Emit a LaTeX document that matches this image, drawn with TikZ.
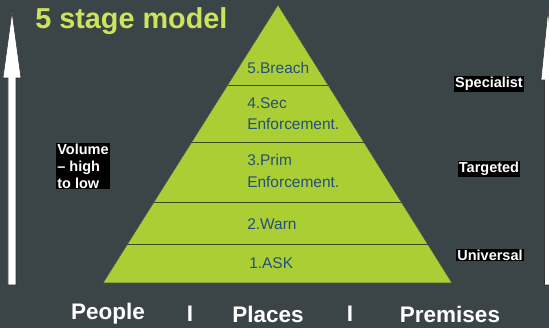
\documentclass[tikz,border=0pt]{standalone}
\usepackage{fontspec}
\setmainfont{Liberation Sans}
\usetikzlibrary{positioning,calc}

\definecolor{slate}{HTML}{3B4548}
\definecolor{lime}{HTML}{ABCE34}
\definecolor{titlelime}{HTML}{CDE35C}
\definecolor{stageblue}{HTML}{24507C}
\definecolor{rulegreen}{HTML}{3C4A22}

\tikzset{
  stagelabel/.style={anchor=west, align=left, text=stageblue, font=\fontsize{11}{15}\selectfont, inner sep=0pt},
  sidelabel/.style={fill=black, text=white, font=\bfseries\fontsize{10.3}{12}\selectfont, inner sep=0.8pt},
  bottomlabel/.style={text=white, font=\bfseries\fontsize{16}{18}\selectfont, inner sep=0pt},
  bigarrow/.style={fill=white, draw=black!80, line width=0.4pt}
}

\begin{document}
\begin{tikzpicture}[x=0.025cm, y=-0.025cm]
				\fill[slate] (0,0) rectangle (549,328);
				\useasboundingbox (0,0) rectangle (549,328);
				\clip (0,0) rectangle (549,328);
				
				% volume arrows
				\draw[bigarrow] (8,285) -- (8,78) -- (3,78) -- (12,12) -- (21,78) -- (16,78) -- (16,285) -- cycle;
				\draw[bigarrow] (544.5,285) -- (544.5,80) -- (541,80) -- (548,10) -- (555,80) -- (551.5,80) -- (551.5,285) -- cycle;
				
				% pyramid
				\coordinate (apex) at (278,5);
				\coordinate (bl) at (103,283);
				\coordinate (br) at (452,283);
				\fill[lime, draw=black!70, line width=0.4pt] (apex) -- (br) -- (bl) -- cycle;
				\foreach \t in {0.288,0.496,0.709,0.860}
					\draw[rulegreen, line width=0.6pt] ($(apex)!\t!(bl)$) -- ($(apex)!\t!(br)$);
				
				\node[anchor=west, text=titlelime, font=\bfseries\fontsize{20.5}{24}\selectfont, inner sep=0pt] (title) at (35,21) {5 stage model};
				
				\node[stagelabel] (breach) at (247,68) {5.Breach};
				\node[stagelabel] (secenf) at (247,114) {4.Sec\\Enforcement.};
				\node[stagelabel] (primenf) at (247,171) {3.Prim\\Enforcement.};
				\node[stagelabel] (warn) at (247,224) {2.Warn};
				\node[stagelabel] (ask) at (249,263) {1.ASK};
				
				\node[sidelabel, align=left, anchor=west] (volume) at (56,166) {Volume\\– high\\to low};
				\node[sidelabel] (specialist) at (489,84) {Specialist};
				\node[sidelabel] (targeted) at (489,169) {Targeted};
				\node[sidelabel] (universal) at (490,255) {Universal};
				
				\node[bottomlabel] (people) at (108,314) {People};
				\node[bottomlabel] (sep1) at (190,314) {I};
				\node[bottomlabel] (places) at (268,314) {Places};
				\node[bottomlabel] (sep2) at (350,314) {I};
				\node[bottomlabel] (premises) at (450,314) {Premises};
			\end{tikzpicture}
\end{document}
